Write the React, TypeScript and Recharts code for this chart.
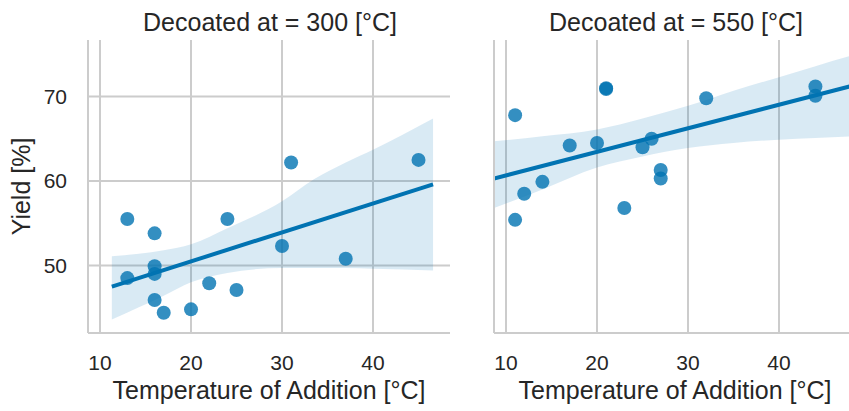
import {
  Area,
  CartesianGrid,
  ComposedChart,
  Line,
  Scatter,
  XAxis,
  YAxis,
} from "recharts";

// Decoated at 300 °C
const temp300 = [13, 13, 16, 16, 16, 16, 17, 20, 22, 24, 25, 30, 31, 37, 45];
const yield300 = [55.5, 48.5, 53.8, 49.9, 49.0, 45.9, 44.4, 44.8, 47.9, 55.5, 47.1, 52.3, 62.2, 50.8, 62.5];
const fitX300 = [11.3, 46.6];
const fitY300 = [47.5, 59.6];
const bandX300 = [11.3, 17, 20, 24, 30, 33.5, 37, 40, 46.6];
const bandLo300 = [43.6, 46.4, 48.0, 49.1, 49.7, 49.7, 49.7, 49.6, 49.4];
const bandHi300 = [51.1, 51.8, 52.5, 54.4, 57.6, 60.2, 62.2, 63.7, 67.4];

// Decoated at 550 °C
const temp550 = [11, 11, 12, 14, 17, 20, 21, 21, 23, 25, 26, 27, 27, 32, 44, 44];
const yield550 = [67.8, 55.4, 58.5, 59.9, 64.2, 64.5, 71.0, 70.9, 56.8, 64.0, 65.0, 61.3, 60.3, 69.8, 71.2, 70.1];
const fitX550 = [8.68, 48.46];
const fitY550 = [60.3, 71.4];
const bandX550 = [8.68, 14, 20, 25, 30, 35, 40, 44, 48.46];
const bandLo550 = [56.8, 59.0, 61.6, 62.9, 63.9, 64.5, 64.9, 65.1, 65.3];
const bandHi550 = [64.7, 65.3, 66.1, 67.4, 68.9, 70.7, 72.3, 73.6, 75.0];

const xTicks = [10, 20, 30, 40];
const yTicks = [50, 60, 70];

const BLUE = "#0173b2";
const GRID = "#cccccc";
const TEXT = "#262626";
const FONT = "'Liberation Sans', Arial, sans-serif";

const zip = (xs: number[], ys: number[]) => xs.map((x, i) => ({ x, y: ys[i] }));
const zipBand = (xs: number[], lo: number[], hi: number[]) =>
  xs.map((x, i) => ({ x, band: [lo[i], hi[i]] }));

const Dot = (props: any) => (
  <circle cx={props.cx} cy={props.cy} r={7} fill={BLUE} fillOpacity={0.8} />
);

interface PanelProps {
  title: string;
  points: { x: number; y: number }[];
  fit: { x: number; y: number }[];
  band: { x: number; band: number[] }[];
  showY: boolean;
  left: number;
  width: number;
  yAxisWidth: number;
}

function Panel({ title, points, fit, band, showY, left, width, yAxisWidth }: PanelProps) {
  return (
    <div style={{ position: "absolute", left, top: 0, width, height: 411 }}>
      <ComposedChart
        width={width}
        height={411}
        margin={{ top: 40, right: width - yAxisWidth - 362, bottom: 0, left: 0 }}
        style={{ fontFamily: FONT }}
      >
        <text
          x={yAxisWidth + 182}
          y={22}
          textAnchor="middle"
          dominantBaseline="central"
          fill={TEXT}
          fontSize={25}
          fontFamily={FONT}
        >
          {title}
        </text>
        <CartesianGrid stroke={GRID} strokeWidth={2} horizontalValues={yTicks} verticalValues={xTicks} />
        <XAxis
          type="number"
          dataKey="x"
          domain={[8.68, 48.46]}
          ticks={xTicks}
          allowDataOverflow
          height={78}
          tickLine={false}
          tickSize={6}
          tickMargin={16}
          axisLine={{ stroke: GRID, strokeWidth: 2 }}
          tick={{ fill: TEXT, fontSize: 21, fontFamily: FONT }}
          label={{
            value: "Temperature of Addition [°C]",
            position: "insideBottom",
            offset: 12,
            fill: TEXT,
            fontSize: 25,
            fontFamily: FONT,
          }}
        />
        <YAxis
          type="number"
          domain={[42, 76.7]}
          ticks={yTicks}
          allowDataOverflow
          width={yAxisWidth}
          tickLine={false}
          tickSize={6}
          tickMargin={15}
          axisLine={{ stroke: GRID, strokeWidth: 2 }}
          tick={showY ? { fill: TEXT, fontSize: 21, fontFamily: FONT } : false}
          label={
            showY
              ? {
                  content: ({ viewBox }: any) => (
                    <text
                      transform={`translate(${viewBox.x + 21}, ${viewBox.y + viewBox.height / 2}) rotate(-90)`}
                      textAnchor="middle"
                      dominantBaseline="central"
                      fill={TEXT}
                      fontSize={25}
                      fontFamily={FONT}
                    >
                      Yield [%]
                    </text>
                  ),
                }
              : undefined
          }
        />
        <Area
          data={band}
          dataKey="band"
          type="monotone"
          fill={BLUE}
          fillOpacity={0.15}
          stroke="none"
          isAnimationActive={false}
        />
        <Scatter data={points} dataKey="y" shape={Dot} isAnimationActive={false} />
        <Line
          data={fit}
          dataKey="y"
          type="linear"
          stroke={BLUE}
          strokeWidth={4}
          dot={false}
          isAnimationActive={false}
        />
      </ComposedChart>
    </div>
  );
}

export default function App() {
  return (
    <div
      style={{
        position: "absolute",
        left: 0,
        top: 0,
        width: 849,
        height: 411,
        overflow: "hidden",
        background: "#fff",
      }}
    >
      <Panel
        title="Decoated at = 300 [°C]"
        points={zip(temp300, yield300)}
        fit={zip(fitX300, fitY300)}
        band={zipBand(bandX300, bandLo300, bandHi300)}
        showY
        left={0}
        width={460}
        yAxisWidth={88}
      />
      <Panel
        title="Decoated at = 550 [°C]"
        points={zip(temp550, yield550)}
        fit={zip(fitX550, fitY550)}
        band={zipBand(bandX550, bandLo550, bandHi550)}
        showY={false}
        left={460}
        width={400}
        yAxisWidth={34}
      />
    </div>
  );
}
